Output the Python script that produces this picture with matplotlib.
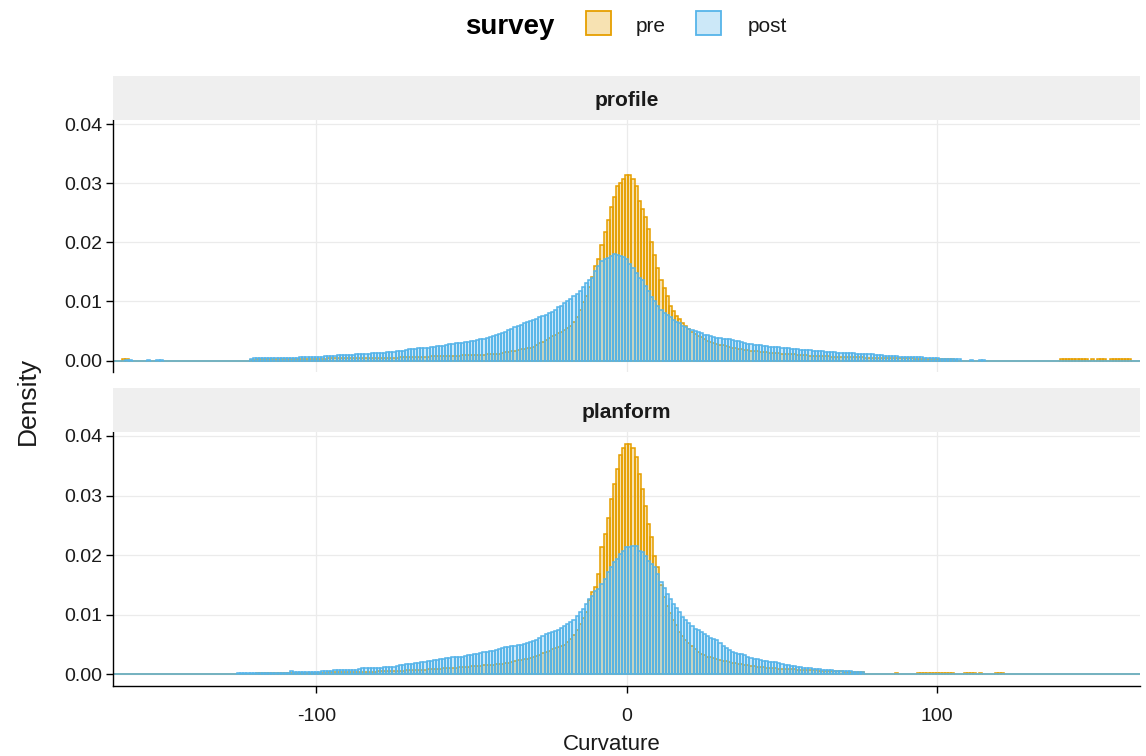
import numpy as np
import matplotlib
matplotlib.use("Agg")
import matplotlib.pyplot as plt
from matplotlib.patches import Rectangle
from matplotlib.colors import to_rgba

plt.rcParams['font.family'] = ['Liberation Sans', 'DejaVu Sans']
plt.rcParams['axes.unicode_minus'] = False

# ---------------- data (density, in units of 1e-5, bins of width 1 centred at -165..165)
first_bin = -165
last_bin = 165
density_unit = 1e-5
facets = ["profile", "planform"]
groups = ["pre", "post"]

profile_pre = [
    0, 0, 0, 30, 30, 0, 0, 0, 0, 0,                      # -165
    0, 0, 0, 0, 0, 0, 0, 0, 0, 0,                        # -155
    0, 0, 0, 0, 0, 0, 0, 0, 0, 0,                        # -145
    0, 0, 0, 0, 0, 0, 0, 0, 0, 0,                        # -135
    0, 0, 0, 0, 10, 15, 20, 20, 20, 20,                  # -125
    20, 22, 22, 24, 25, 25, 26, 28, 28, 30,              # -115
    30, 30, 30, 32, 32, 34, 34, 35, 35, 36,              # -105
    36, 38, 38, 40, 40, 40, 42, 42, 44, 45,              # -95
    45, 46, 46, 47, 48, 48, 49, 50, 50, 50,              # -85
    50, 52, 54, 55, 56, 58, 60, 62, 64, 65,              # -75
    66, 68, 70, 71, 72, 74, 76, 78, 80, 82,              # -65
    84, 86, 88, 90, 92, 94, 96, 98, 100, 103,            # -55
    106, 109, 112, 116, 120, 130, 140, 150, 160, 170,    # -45
    180, 190, 200, 210, 220, 230, 260, 290, 320, 350,    # -35
    380, 410, 440, 470, 490, 510, 550, 590, 660, 740,    # -25
    860, 990, 1100, 1250, 1420, 1600, 1710, 1960, 2180, 2380,   # -15
    2600, 2770, 2960, 3000, 3070, 3140, 3130, 3070, 2960, 2700, # -5
    2560, 2430, 2230, 2010, 1790, 1570, 1370, 1230, 1090, 930,  # 5
    840, 760, 700, 640, 580, 530, 480, 450, 420, 400,    # 15
    370, 340, 320, 300, 285, 270, 258, 245, 230, 220,    # 25
    210, 200, 190, 180, 172, 165, 160, 155, 150, 145,    # 35
    140, 135, 130, 126, 122, 120, 115, 112, 108, 104,    # 45
    100, 97, 94, 90, 86, 80, 78, 76, 74, 72,             # 55
    70, 68, 66, 64, 62, 60, 58, 57, 56, 55,              # 65
    54, 53, 52, 51, 50, 50, 48, 46, 45, 44,              # 75
    43, 42, 41, 40, 40, 40, 38, 36, 35, 34,              # 85
    33, 32, 31, 30, 30, 28, 26, 25, 24, 22,              # 95
    20, 18, 0, 0, 0, 0, 0, 0, 0, 0,                      # 105
    0, 0, 0, 0, 0, 0, 0, 0, 0, 0,                        # 115
    0, 0, 0, 0, 0, 0, 0, 0, 0, 0,                        # 125
    0, 0, 0, 0, 0, 30, 30, 30, 30, 30,                   # 135
    30, 30, 30, 32, 0, 28, 0, 28, 28, 28,                # 145
    0, 30, 30, 30, 30, 30, 30, 30, 0, 0, 0,              # 155
]

profile_post = [
    0, 0, 0, 0, 12, 12, 0, 0, 0, 0,                      # -165
    0, 15, 0, 0, 15, 15, 0, 0, 0, 0,                     # -155
    0, 0, 0, 0, 0, 0, 0, 0, 0, 0,                        # -145
    0, 0, 0, 0, 0, 0, 0, 0, 0, 0,                        # -135
    0, 0, 0, 0, 35, 38, 40, 40, 40, 40,                  # -125
    40, 40, 40, 40, 42, 42, 42, 44, 44, 46,              # -115
    55, 58, 60, 60, 62, 62, 64, 66, 70, 75,              # -105
    80, 85, 88, 90, 92, 94, 96, 100, 105, 110,           # -95
    115, 118, 120, 122, 124, 126, 130, 134, 140, 145,    # -85
    150, 155, 160, 170, 180, 190, 195, 200, 205, 210,    # -75
    215, 220, 228, 235, 240, 245, 255, 265, 275, 285,    # -65
    290, 295, 300, 310, 320, 330, 340, 350, 360, 370,    # -55
    385, 400, 420, 440, 455, 470, 490, 510, 530, 560,    # -45
    590, 610, 630, 650, 670, 690, 710, 730, 750, 770,    # -35
    800, 830, 860, 900, 930, 970, 1010, 1050, 1090, 1130,       # -25
    1170, 1250, 1320, 1360, 1390, 1520, 1600, 1680, 1710, 1740, # -15
    1770, 1810, 1780, 1770, 1760, 1720, 1640, 1560, 1480, 1390, # -5
    1360, 1260, 1170, 1070, 1000, 920, 860, 810, 770, 730,      # 5
    690, 660, 630, 590, 560, 540, 520, 500, 480, 460,    # 15
    440, 425, 410, 400, 390, 380, 372, 365, 358, 350,    # 25
    340, 325, 310, 295, 285, 275, 268, 262, 256, 250,    # 35
    244, 238, 232, 226, 222, 218, 212, 206, 200, 195,    # 45
    190, 185, 180, 175, 172, 170, 165, 160, 155, 150,    # 55
    146, 142, 138, 134, 130, 128, 126, 124, 122, 120,    # 65
    118, 115, 112, 108, 104, 100, 95, 90, 85, 80,        # 75
    75, 72, 70, 68, 66, 64, 62, 60, 58, 56,              # 85
    54, 52, 40, 40, 38, 36, 35, 34, 32, 30,              # 95
    28, 26, 25, 0, 0, 0, 15, 0, 0, 15,                   # 105
    15, 0, 0, 0, 0, 0, 0, 0, 0, 0,                       # 115
    0, 0, 0, 0, 0, 0, 0, 0, 0, 0,                        # 125
    0, 0, 0, 0, 0, 0, 0, 0, 0, 0,                        # 135
    0, 0, 0, 0, 0, 0, 0, 0, 0, 0,                        # 145
    0, 0, 0, 0, 0, 0, 0, 0, 0, 0, 0,                     # 155
]

planform_pre = [
    0, 0, 0, 0, 0, 0, 0, 0, 0, 0,                        # -165
    0, 0, 0, 0, 0, 0, 0, 0, 0, 0,                        # -155
    0, 0, 0, 0, 0, 0, 0, 0, 0, 0,                        # -145
    0, 0, 0, 0, 0, 0, 0, 0, 0, 0,                        # -135
    0, 0, 0, 0, 0, 15, 18, 20, 20, 20,                   # -125
    20, 20, 20, 22, 22, 22, 24, 24, 25, 25,              # -115
    26, 26, 28, 28, 30, 30, 30, 32, 32, 34,              # -105
    34, 36, 36, 38, 38, 40, 40, 42, 42, 44,              # -95
    44, 45, 46, 47, 48, 50, 52, 54, 56, 58,              # -85
    59, 60, 62, 64, 66, 68, 70, 72, 75, 78,              # -75
    80, 84, 88, 90, 93, 96, 100, 104, 108, 112,          # -65
    116, 120, 124, 128, 130, 134, 138, 142, 146, 150,    # -55
    155, 160, 165, 170, 175, 180, 190, 200, 210, 225,    # -45
    235, 245, 255, 265, 280, 290, 310, 330, 355, 380,    # -35
    400, 420, 440, 460, 480, 500, 550, 600, 660, 750,    # -25
    850, 950, 1050, 1250, 1380, 1460, 1690, 2130, 2350, 2630,   # -15
    2940, 3190, 3440, 3680, 3800, 3870, 3870, 3800, 3640, 3360, # -5
    3110, 2830, 2520, 2300, 1990, 1800, 1500, 1300, 1150, 1030, # 5
    920, 830, 720, 640, 580, 530, 470, 420, 375, 345,    # 15
    320, 300, 285, 270, 255, 242, 230, 218, 208, 198,    # 25
    188, 178, 168, 158, 150, 144, 138, 132, 126, 120,    # 35
    115, 110, 106, 102, 98, 95, 92, 89, 86, 83,          # 45
    80, 77, 74, 72, 70, 68, 66, 64, 62, 60,              # 55
    58, 56, 54, 52, 50, 49, 48, 47, 46, 45,              # 65
    44, 43, 0, 0, 0, 0, 0, 0, 0, 0,                      # 75
    0, 0, 25, 0, 0, 0, 0, 0, 0, 30,                      # 85
    30, 30, 30, 30, 30, 30, 30, 30, 30, 30,              # 95
    30, 0, 0, 0, 30, 30, 30, 30, 0, 30,                  # 105
    0, 0, 0, 0, 30, 30, 30, 0, 0, 0,                     # 115
    0, 0, 0, 0, 0, 0, 0, 0, 0, 0,                        # 125
    0, 0, 0, 0, 0, 0, 0, 0, 0, 0,                        # 135
    0, 0, 0, 0, 0, 0, 0, 0, 0, 0,                        # 145
    0, 0, 0, 0, 0, 0, 0, 0, 0, 0, 0,                     # 155
]

planform_post = [
    0, 0, 0, 0, 0, 0, 0, 0, 0, 0,                        # -165
    0, 0, 0, 0, 0, 0, 0, 0, 0, 0,                        # -155
    0, 0, 0, 0, 0, 0, 0, 0, 0, 0,                        # -145
    0, 0, 0, 15, 0, 0, 0, 15, 0, 0,                      # -135
    20, 20, 20, 20, 20, 20, 20, 20, 20, 20,              # -125
    20, 20, 20, 20, 20, 20, 20, 50, 45, 45,              # -115
    45, 45, 40, 40, 40, 40, 40, 60, 60, 60,              # -105
    65, 70, 70, 70, 70, 70, 72, 74, 80, 90,              # -95
    100, 100, 100, 100, 100, 105, 110, 120, 125, 130,    # -85
    130, 135, 150, 165, 170, 175, 180, 190, 200, 205,    # -75
    210, 220, 230, 245, 250, 255, 260, 270, 280, 285,    # -65
    290, 295, 300, 310, 320, 330, 340, 350, 360, 370,    # -55
    380, 390, 400, 410, 420, 440, 455, 465, 470, 480,    # -45
    490, 500, 510, 520, 540, 560, 580, 610, 640, 670,    # -35
    690, 710, 730, 750, 780, 810, 850, 880, 920, 980,    # -25
    1040, 1100, 1180, 1260, 1320, 1400, 1430, 1520, 1600, 1710, # -15
    1800, 1880, 1940, 2020, 2070, 2130, 2140, 2160, 2150, 2070, # -5
    2050, 1980, 1910, 1850, 1800, 1690, 1550, 1450, 1350, 1260, # 5
    1180, 1110, 1040, 970, 910, 860, 810, 770, 740, 720, # 15
    680, 640, 610, 590, 570, 520, 480, 440, 410, 380,    # 25
    360, 350, 340, 320, 290, 270, 260, 255, 250, 230,    # 35
    220, 215, 210, 205, 195, 170, 160, 150, 145, 140,    # 45
    130, 120, 110, 105, 100, 95, 90, 85, 82, 80,         # 55
    78, 76, 65, 60, 55, 52, 50, 50, 48, 46,              # 65
    45, 44, 0, 0, 0, 0, 0, 0, 0, 0,                      # 75
    0, 0, 0, 0, 0, 0, 0, 0, 0, 0,                        # 85
    0, 0, 0, 0, 0, 0, 0, 0, 0, 0,                        # 95
    0, 0, 0, 0, 0, 0, 0, 0, 0, 0,                        # 105
    0, 0, 0, 0, 0, 0, 0, 0, 0, 0,                        # 115
    0, 0, 0, 0, 0, 0, 0, 0, 0, 0,                        # 125
    0, 0, 0, 0, 0, 0, 0, 0, 0, 0,                        # 135
    0, 0, 0, 0, 0, 0, 0, 0, 0, 0,                        # 145
    0, 0, 0, 0, 0, 0, 0, 0, 0, 0, 0,                     # 155
]

x_ticks = [-100, 0, 100]
x_tick_labels = ["-100", "0", "100"]
y_ticks = [0.00, 0.01, 0.02, 0.03, 0.04]
y_tick_labels = ["0.00", "0.01", "0.02", "0.03", "0.04"]
x_title = "Curvature"
y_title = "Density"
legend_title = "survey"

series = {
    "profile": {"pre": profile_pre, "post": profile_post},
    "planform": {"pre": planform_pre, "post": planform_post},
}

# ---------------- styling
colors = {"pre": "#E69F00", "post": "#56B4E9"}
fill_alpha = 0.3
centers = np.arange(first_bin, last_bin + 1)
for f in facets:
    for g in groups:
        assert len(series[f][g]) == len(centers), (f, g, len(series[f][g]))

W, H = 1146, 756
fig = plt.figure(figsize=(W / 100, H / 100), dpi=100)


def fa(l, t, r, b):
    return [l / W, 1 - b / H, (r - l) / W, (b - t) / H]


panel_boxes = [(113, 120.1, 1140, 372.1), (113, 432, 1140, 686)]
strip_boxes = [(113, 76, 1140, 120), (113, 388, 1140, 432)]

for i, f in enumerate(facets):
    ax = fig.add_axes(fa(*panel_boxes[i]))
    for g in groups:
        vals = np.asarray(series[f][g], dtype=float) * density_unit
        ax.bar(centers, vals, width=1.0, align="center",
               facecolor=to_rgba(colors[g], fill_alpha),
               edgecolor=colors[g], linewidth=1.12, zorder=2)
    ax.set_xlim(-165.5, 165.3)
    ax.set_ylim(-0.00194, 0.04066)
    ax.set_axisbelow(True)
    ax.grid(True, color="#EBEBEB", linewidth=0.9, zorder=0)
    ax.set_xticks(x_ticks)
    ax.set_yticks(y_ticks)
    ax.set_yticklabels(y_tick_labels)
    for s in ["top", "right"]:
        ax.spines[s].set_visible(False)
    ax.spines["left"].set_color("black")
    ax.spines["left"].set_linewidth(1.0)
    ax.tick_params(axis="y", labelsize=14, length=5, width=1, color="black",
                   labelcolor="#1a1a1a", pad=2.5)
    if i == 0:
        ax.spines["bottom"].set_visible(False)
        ax.tick_params(axis="x", length=0, labelbottom=False)
    else:
        ax.spines["bottom"].set_color("black")
        ax.spines["bottom"].set_linewidth(1.0)
        ax.set_xticklabels(x_tick_labels)
        ax.tick_params(axis="x", labelsize=14, length=5, width=1, color="black",
                       labelcolor="#1a1a1a", pad=11)

    sax = fig.add_axes(fa(*strip_boxes[i]))
    sax.set_facecolor("#EFEFEF")
    sax.set_xticks([])
    sax.set_yticks([])
    for s in sax.spines.values():
        s.set_visible(False)
    sax.text(0.5, 0.45, f, transform=sax.transAxes, ha="center", va="center",
             fontsize=15, fontweight="bold", color="#1a1a1a")

# axis titles
fig.text(612 / W, 1 - 745 / H, x_title, ha="center", va="center", fontsize=16, color="#1a1a1a")
fig.text(28 / W, 1 - 401 / H, y_title, ha="center", va="center", fontsize=19,
         rotation=90, color="#1a1a1a")

# legend
fig.text(510 / W, 1 - 27 / H, legend_title, ha="center", va="center", fontsize=20,
         fontweight="bold", color="black")
key_x = {"pre": 586, "post": 696}
lab_x = {"pre": 636, "post": 748}
for g in groups:
    fig.patches.append(Rectangle((key_x[g] / W, 1 - 35 / H), 25 / W, 24 / H,
                                 transform=fig.transFigure,
                                 facecolor=to_rgba(colors[g], fill_alpha),
                                 edgecolor=colors[g], linewidth=1.3))
    fig.text(lab_x[g] / W, 1 - 26 / H, g, ha="left", va="center", fontsize=15,
             color="#1a1a1a")

fig.savefig("out.png", dpi=100)
